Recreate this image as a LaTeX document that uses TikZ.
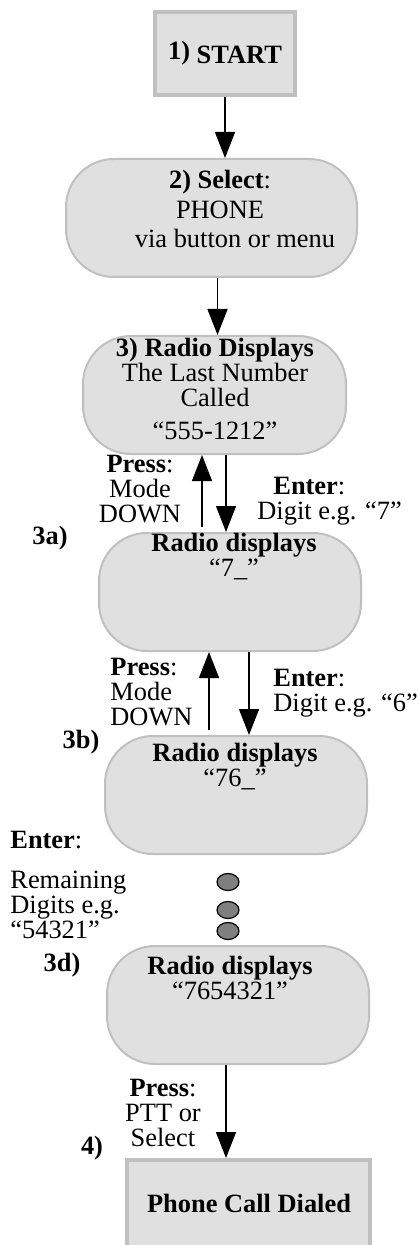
\documentclass[tikz,border=0pt]{standalone}
\usepackage{fontspec}
\setmainfont{Liberation Serif}
\usepackage{tikz}
\usetikzlibrary{arrows.meta, positioning, calc}
\definecolor{BoxFill}{HTML}{E0E0E0}
\definecolor{BoxLine}{HTML}{C0C0C0}
\definecolor{DotFill}{HTML}{7F7F7F}

\begin{document}
\begin{tikzpicture}[x=0.5pt, y=-0.5pt,
    font=\fontsize{13.2}{12.5}\selectfont,
    squarebox/.style={draw=BoxLine, line width=2pt, fill=BoxFill, inner sep=0pt},
    roundbox/.style={draw=BoxLine, line width=1pt, fill=BoxFill, rounded corners=24pt,
        minimum width=131pt, minimum height=59pt, inner sep=0pt},
    note/.style={inner sep=0pt, align=center},
    flow/.style={-{Triangle[length=13pt, width=10pt]}, line width=0.7pt}]
    \clip (0,0) rectangle (418,1245);

    % Boxes
    \node[squarebox, minimum width=70pt, minimum height=41.5pt] (start) at (225,53.5)
        {\textbf{\raisebox{2pt}{1)} START}};
    \node[roundbox, minimum width=145.5pt] (select) at (211.5,218) {};
    \node[roundbox, minimum width=131.5pt] (disp) at (214.5,395) {};
    \node[roundbox] (dispa) at (230,592) {};
    \node[roundbox] (dispb) at (236,795) {};
    \node[roundbox] (dispd) at (238,1005) {};
    \node[squarebox, minimum width=121.5pt, minimum height=50pt] (dialed) at (248.5,1210) {};

    % Box texts
    \node[note] (select-text) at (220,209)
        {\textbf{2) Select}:\\[2.5pt] PHONE\\[2pt] \hspace*{15pt}via button or menu};
    \node[note] (disp-text) at (215,388.5)
        {\textbf{3) Radio Displays}\\ The Last Number\\ Called\\[4pt] “555-1212”};
    \node[note] (dispa-text) at (234,556.5) {\textbf{Radio displays}\\ “7\_”};
    \node[note] (dispb-text) at (235,766.5) {\textbf{Radio displays}\\ “76\_”};
    \node[note] (dispd-text) at (230,977.5) {\textbf{Radio displays}\\ “7654321”};
    \node[note] (dialed-text) at (249,1203) {\textbf{Phone Call Dialed}};

    % Step numbers
    \node[note] (step-a) at (50,538) {\textbf{3a)}};
    \node[note] (step-b) at (81,742) {\textbf{3b)}};
    \node[note] (step-d) at (62,965) {\textbf{3d)}};
    \node[note] (step-end) at (92,1148) {\textbf{4)}};

    % Key labels
    \node[note] (press-a) at (140,489) {\textbf{Press}:\\ Mode\\ DOWN};
    \node[note, align=left, anchor=west] (enter-a) at (257,501.5)
        {\hspace*{8pt}\textbf{Enter}:\\ Digit e.g. “7”};
    \node[note, align=left, anchor=west] (press-b) at (110,692.5) {\textbf{Press}:\\ Mode\\ DOWN};
    \node[note, align=left, anchor=west] (enter-b) at (273,693.5) {\textbf{Enter}:\\ Digit e.g. “6”};
    \node[note, align=left, anchor=west] (enter-c) at (10,885)
        {\textbf{Enter}:\\[7.5pt] Remaining\\ Digits e.g.\\ “54321”};
    \node[note] (press-c) at (163,1113) {\textbf{Press}:\\ PTT or\\ Select};

    % Dots for the skipped steps
    \foreach \y in {882,910,931}
        \draw[line width=0.6pt, fill=DotFill] (228,\y) ellipse [x radius=11, y radius=8.5];

    % Connectors
    \draw[flow] (start) -- (start |- select.north);
    \draw[flow] ([xshift=3pt]select.south) -- ([xshift=3pt]select.south |- disp.north);
    \draw[flow] ([xshift=5.75pt]disp.south) -- ([xshift=5.75pt]disp.south |- dispa.north);
    \draw[flow, shorten <=2.5pt] ([xshift=-14pt]dispa.north) -- ([xshift=-14pt]dispa.north |- disp.south);
    \draw[flow] ([xshift=9.5pt]dispa.south) -- ([xshift=9.5pt]dispa.south |- dispb.north);
    \draw[flow, shorten <=2.5pt] ([xshift=-13.5pt]dispb.north) -- ([xshift=-13.5pt]dispb.north |- dispa.south);
    \draw[flow] ([xshift=-6pt]dispd.south) -- ([xshift=-6pt]dispd.south |- dialed.north);
\end{tikzpicture}
\end{document}
